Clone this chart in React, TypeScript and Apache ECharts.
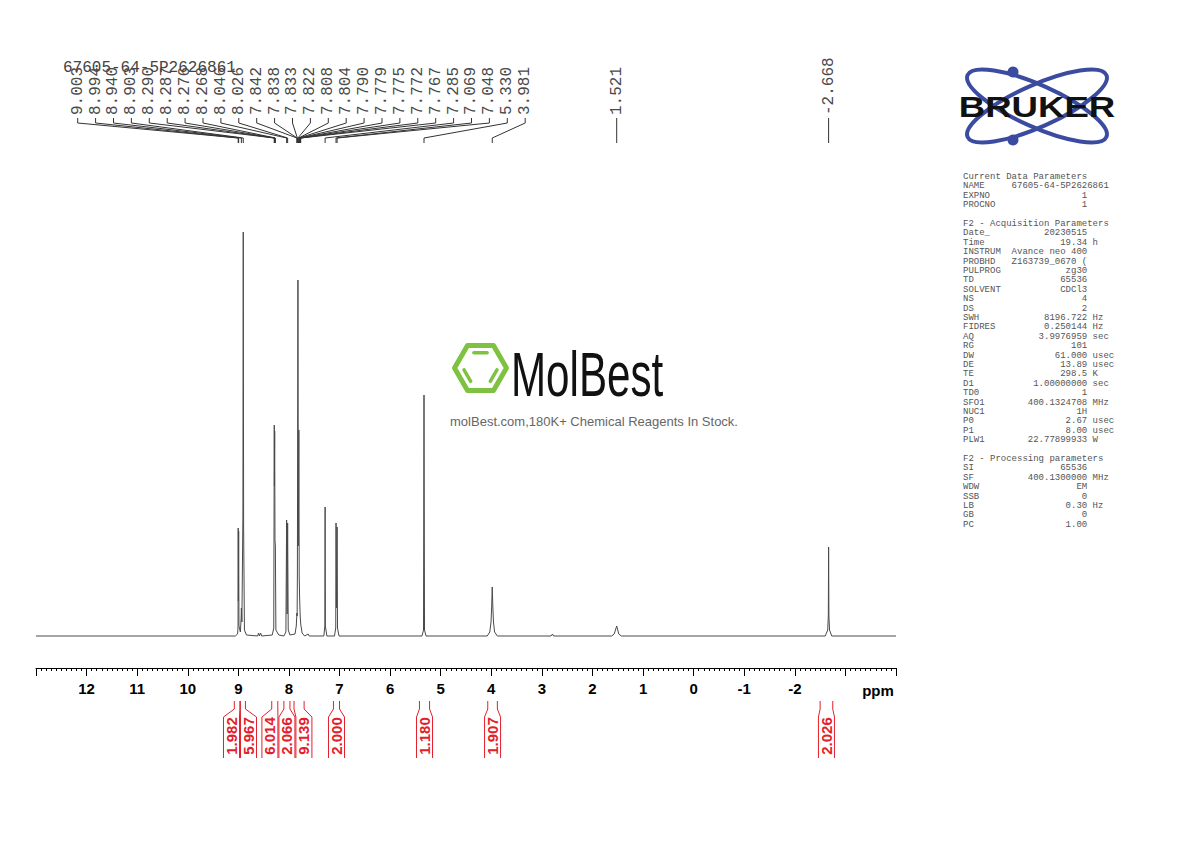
import React, { useEffect, useRef } from "react";
import * as echarts from "echarts";

// ---- data ----
const sampleName = "67605-64-5P2626861";

const axisLabelsShown = [12, 11, 10, 9, 8, 7, 6, 5, 4, 3, 2, 1, 0, -1, -2];

// spectrum trace (ppm, relative intensity)
const specPpm = [
  13.0, 9.06, 9.015, 9.006, 9.003, 8.999, 8.994, 8.988, 8.96, 8.945, 8.94, 8.93, 8.91, 8.903, 8.896, 8.88, 8.84,
  8.62, 8.6, 8.585, 8.56, 8.54, 8.33, 8.3, 8.29, 8.287, 8.282, 8.276, 8.268, 8.258, 8.2,
  8.1, 8.06, 8.046, 8.036, 8.026, 8.014, 7.98,
  7.88, 7.855, 7.842, 7.838, 7.833, 7.822, 7.815, 7.808, 7.804, 7.797, 7.79, 7.779, 7.775, 7.772, 7.767, 7.74, 7.69,
  7.62, 7.6, 7.31, 7.29, 7.285, 7.28, 7.25,
  7.1, 7.075, 7.069, 7.059, 7.048, 7.04, 7.01,
  5.37, 5.34, 5.33, 5.32, 5.29,
  4.08, 4.03, 4.005, 3.992, 3.981, 3.97, 3.957, 3.935, 3.88,
  2.82, 2.79, 2.77,
  1.62, 1.57, 1.54, 1.521, 1.505, 1.48, 1.43,
  -2.6, -2.65, -2.662, -2.668, -2.674, -2.686, -2.73, -4.0,
];
const specInt = [
  0, 0, 2, 10, 108, 35, 105, 10, 4, 18, 28, 14, 120, 404, 110, 6, 1,
  0, 3, 0, 3, 0, 1, 8, 211, 150, 205, 96, 90, 6, 1,
  0, 4, 116, 22, 113, 6, 1,
  2, 10, 23, 20, 60, 356, 90, 150, 206, 60, 40, 22, 18, 16, 12, 3, 0,
  2, 0, 0, 10, 129, 10, 0,
  0, 8, 113, 28, 109, 8, 0,
  0, 6, 241, 6, 0,
  0, 4, 14, 30, 49, 30, 14, 4, 0,
  0, 2, 0,
  0, 2, 7, 10, 7, 2, 0,
  0, 6, 20, 89, 20, 6, 0, 0,
];

// peak pick labels
const peakLabels = [
  "9.003", "8.994", "8.940", "8.903", "8.290", "8.287", "8.276", "8.268", "8.046", "8.026",
  "7.842", "7.838", "7.833", "7.822", "7.808", "7.804", "7.790", "7.779", "7.775", "7.772",
  "7.767", "7.285", "7.069", "7.048", "5.330", "3.981", "1.521", "-2.668",
];

// integrals
const integralValues = ["1.982", "5.967", "6.014", "2.066", "9.139", "2.000", "1.180", "1.907", "2.026"];
const integralFrom = [9.08, 8.96, 8.34, 8.1, 7.9, 7.12, 5.42, 4.07, -2.5];
const integralTo = [8.97, 8.86, 8.22, 7.98, 7.7, 7.0, 5.22, 3.88, -2.75];

// acquisition / processing parameters
const paramKeys = [
  "Current Data Parameters", "NAME", "EXPNO", "PROCNO", "",
  "F2 - Acquisition Parameters", "Date_", "Time", "INSTRUM", "PROBHD", "PULPROG", "TD", "SOLVENT", "NS", "DS",
  "SWH", "FIDRES", "AQ", "RG", "DW", "DE", "TE", "D1", "TD0", "SFO1", "NUC1", "P0", "P1", "PLW1", "",
  "F2 - Processing parameters", "SI", "SF", "WDW", "SSB", "LB", "GB", "PC",
];
const paramValues = [
  "", sampleName, "1", "1", "",
  "", "20230515", "19.34", "Avance neo 400", "Z163739_0670 (", "zg30", "65536", "CDCl3", "4", "2",
  "8196.722", "0.250144", "3.9976959", "101", "61.000", "13.89", "298.5", "1.00000000", "1", "400.1324708", "1H", "2.67", "8.00", "22.77899933", "",
  "", "65536", "400.1300000", "EM", "0", "0.30", "0", "1.00",
];
const paramUnits = [
  "", "", "", "", "",
  "", "", "h", "", "", "", "", "", "", "",
  "Hz", "Hz", "sec", "", "usec", "usec", "K", "sec", "", "MHz", "", "usec", "usec", "W", "",
  "", "", "MHz", "", "", "Hz", "", "",
];

function spread(desired: number[], gap: number): number[] {
  const groups: { sum: number; n: number; start: number }[] = [];
  for (const d of desired) {
    groups.push({ sum: d, n: 1, start: d });
    while (groups.length > 1) {
      const b = groups[groups.length - 1];
      const a = groups[groups.length - 2];
      if (a.start + a.n * gap > b.start) {
        const sum = a.sum + b.sum;
        const n = a.n + b.n;
        groups.splice(groups.length - 2, 2, { sum, n, start: sum / n - ((n - 1) * gap) / 2 });
      } else break;
    }
  }
  const out: number[] = [];
  for (const g of groups) for (let k = 0; k < g.n; k++) out.push(g.start + k * gap);
  return out;
}

function textEl(x: number, y: number, text: string, font: string, fill: string, align: string, valign: string, extra: any = {}) {
  return {
    type: "text",
    x,
    y,
    silent: true,
    ...extra,
    style: { text, font, fill, align, verticalAlign: valign, textAlign: align, textVerticalAlign: valign },
  };
}

export default function App() {
  const ref = useRef<HTMLDivElement>(null);
  useEffect(() => {
    const chart = echarts.init(ref.current!, null, { renderer: "svg" });
    chart.setOption({
      animation: false,
      backgroundColor: "#ffffff",
      grid: { left: 36, right: 294, top: 200, bottom: 174 },
      xAxis: {
        type: "value",
        min: -4,
        max: 13,
        interval: 1,
        inverse: true,
        axisLine: { show: true, onZero: false, lineStyle: { color: "#000", width: 1 } },
        axisTick: { show: true, length: 8, lineStyle: { color: "#000", width: 1 } },
        minorTick: { show: true, splitNumber: 10, length: 3, lineStyle: { color: "#000", width: 1 } },
        splitLine: { show: false },
        axisLabel: {
          margin: 13,
          fontSize: 15,
          fontWeight: "bold",
          fontFamily: "Liberation Sans",
          color: "#000",
          formatter: (v: number) => (axisLabelsShown.includes(Math.round(v)) ? String(Math.round(v)) : ""),
        },
      },
      yAxis: { type: "value", min: -32, max: 436, show: false, splitLine: { show: false } },
      series: [
        {
          type: "line",
          data: specPpm.map((p, i) => [p, specInt[i]]),
          showSymbol: false,
          silent: true,
          lineStyle: { color: "#4a4a4a", width: 1 },
        },
      ],
    });

    const px = (v: number) => chart.convertToPixel({ xAxisIndex: 0 }, v) as number;
    const els: any[] = [];

    // sample title
    els.push(textEl(63, 68, sampleName, '16px "Liberation Mono"', "#444", "left", "middle"));

    // peak labels with connectors
    const peakX = peakLabels.map((s) => px(Number(s)));
    const labelX = spread(peakX, 17.9);
    peakLabels.forEach((s, i) => {
      els.push(textEl(labelX[i], 115, s, '16px "Liberation Mono"', "#4a4a4a", "left", "middle", { rotation: Math.PI / 2 }));
      els.push({
        type: "polyline",
        silent: true,
        shape: { points: [[labelX[i], 118], [labelX[i], 123], [peakX[i], 138], [peakX[i], 143]] },
        style: { stroke: "#333", lineWidth: 1, fill: null },
      });
    });

    // integrals
    const red = "#e3202a";
    const xa = integralFrom.map(px);
    const xb = integralTo.map(px);
    const mids = xa.map((a, i) => (a + xb[i]) / 2);
    const centers = spread(mids, 17);
    integralValues.forEach((v, i) => {
      const c = centers[i];
      els.push({
        type: "polyline",
        silent: true,
        shape: { points: [[xa[i], 701], [xa[i], 709], [c - 8, 717], [c - 8, 758]] },
        style: { stroke: red, lineWidth: 1, fill: null },
      });
      els.push({
        type: "polyline",
        silent: true,
        shape: { points: [[xb[i], 701], [xb[i], 709], [c + 8, 717], [c + 8, 758]] },
        style: { stroke: red, lineWidth: 1, fill: null },
      });
      els.push(textEl(c, 736, v, 'bold 15px "Liberation Sans"', red, "center", "middle", { rotation: Math.PI / 2 }));
    });

    // axis unit
    els.push(textEl(878, 690, "ppm", 'bold 15px "Liberation Sans"', "#000", "center", "middle"));

    // parameter panel
    paramKeys.forEach((k, i) => {
      let line = k;
      if (paramValues[i] !== "" || paramUnits[i] !== "") {
        line = k.padEnd(9) + paramValues[i].padStart(14) + (paramUnits[i] ? " " + paramUnits[i] : "");
      }
      if (line) els.push(textEl(963, 177 + i * 9.4, line, '9px "Liberation Mono"', "#555", "left", "middle"));
    });

    // Bruker logo
    const blue = "#3b4ca0";
    els.push({ type: "ellipse", silent: true, x: 1037, y: 106, rotation: -0.42, shape: { cx: 0, cy: 0, rx: 76, ry: 21 }, style: { stroke: blue, lineWidth: 4, fill: null } });
    els.push({ type: "ellipse", silent: true, x: 1037, y: 106, rotation: 0.42, shape: { cx: 0, cy: 0, rx: 76, ry: 21 }, style: { stroke: blue, lineWidth: 4, fill: null } });
    els.push({ type: "circle", silent: true, shape: { cx: 1013, cy: 72, r: 5.5 }, style: { fill: blue } });
    els.push({ type: "circle", silent: true, shape: { cx: 1013, cy: 140, r: 5.5 }, style: { fill: blue } });
    els.push(textEl(1037, 107, "BRUKER", 'bold 30px "Liberation Sans"', "#111", "center", "middle", { scaleX: 1.22, originX: 0, originY: 0 }));

    // MolBest watermark
    const green = "#7fc241";
    const hx = 480.5, hy = 368;
    const hex = (r: number) => [0, 1, 2, 3, 4, 5].map((k) => [hx + r * Math.cos((k * Math.PI) / 3), hy + r * Math.sin((k * Math.PI) / 3)]);
    els.push({ type: "polygon", silent: true, shape: { points: hex(26) }, style: { stroke: green, lineWidth: 5, fill: null, lineJoin: "round" } });
    const inner = hex(17.5);
    const seg = (p: number[], q: number[]) => {
      const t = 0.12;
      return { x1: p[0] + (q[0] - p[0]) * t, y1: p[1] + (q[1] - p[1]) * t, x2: q[0] - (q[0] - p[0]) * t, y2: q[1] - (q[1] - p[1]) * t };
    };
    [[4, 5], [3, 2], [0, 1]].forEach(([a, b]) => {
      els.push({ type: "line", silent: true, shape: seg(inner[a], inner[b]), style: { stroke: green, lineWidth: 3.5, lineCap: "round" } });
    });
    els.push(textEl(511, 374, "MolBest", '62px "Liberation Sans"', "#111", "left", "middle", { scaleX: 0.68 }));
    els.push(textEl(594, 421, "molBest.com,180K+ Chemical Reagents In Stock.", '13px "Liberation Sans"', "#666", "center", "middle"));

    chart.setOption({ graphic: { elements: els } });
    return () => chart.dispose();
  }, []);
  return <div ref={ref} style={{ position: "fixed", left: 0, top: 0, width: 1190, height: 842, background: "#fff" }} />;
}
